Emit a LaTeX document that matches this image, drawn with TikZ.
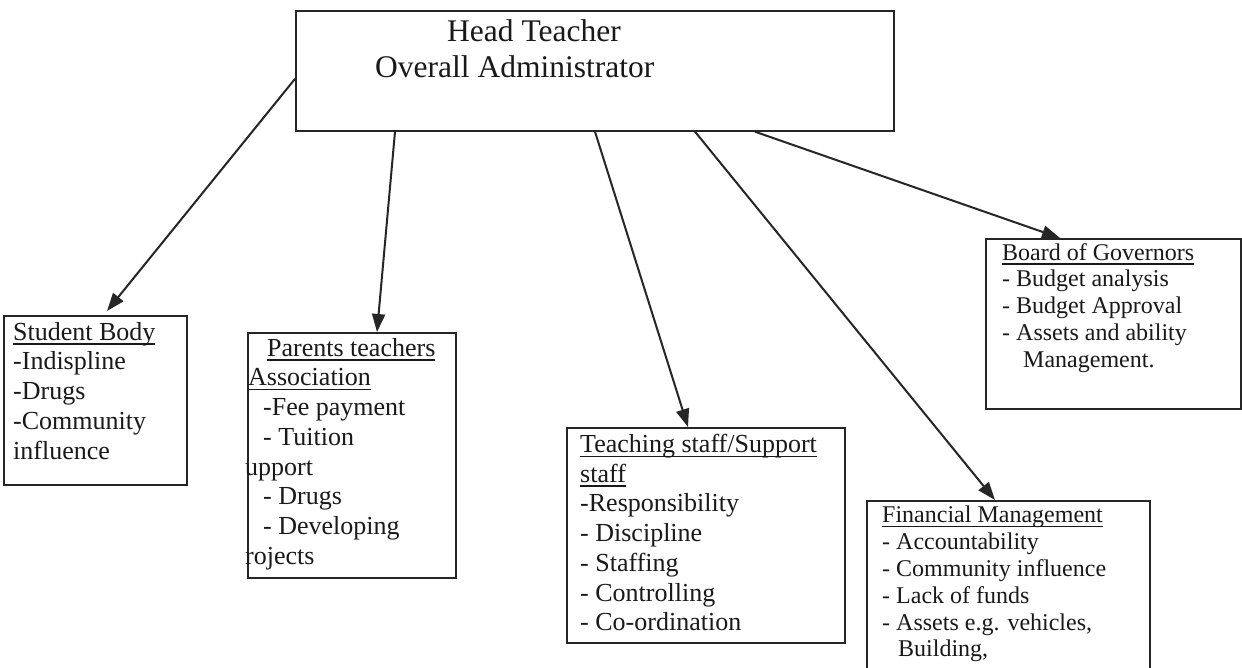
\documentclass[tikz,border=0pt]{standalone}
\usepackage{fontspec}
\setmainfont{Liberation Serif}
\usetikzlibrary{arrows.meta,positioning}
\def\hdsize{\fontsize{31.5pt}{36pt}\selectfont}
\def\mdsize{\fontsize{26pt}{29.7pt}\selectfont}
\def\smsize{\fontsize{24pt}{26.8pt}\selectfont}
\newcommand{\undl}[1]{\setbox0\hbox{#1}\rlap{\rule[-4.5pt]{\wd0}{1.3pt}}\box0}

\begin{document}
\begin{tikzpicture}[x=1pt,y=-1pt,
  orgbox/.style={draw=black!85,line width=1.7pt,anchor=north west,inner sep=0pt},
  boxtext/.style={anchor=north west,align=left,inner sep=0pt,text=black!90},
  link/.style={draw=black!85,line width=2pt,-{Triangle[length=18pt,width=13pt]}}]
\fill[white] (0,0) rectangle (1242,667);
\clip (0,0) rectangle (1242,667);
% boxes
\node[orgbox,minimum width=598pt,minimum height=120pt] (head) at (295,10) {};
\node[orgbox,minimum width=183pt,minimum height=169pt] (student) at (3,315) {};
\node[orgbox,minimum width=208pt,minimum height=245pt] (parents) at (247,332) {};
\node[orgbox,minimum width=278pt,minimum height=215pt] (teach) at (566,427) {};
\node[orgbox,minimum width=283pt,minimum height=200pt] (fin) at (866,500) {};
\node[orgbox,minimum width=255pt,minimum height=170pt] (board) at (985,238) {};
% texts
\node[boxtext,font=\hdsize] (headtxt) at (375,19)
  {\hspace*{72pt}Head Teacher\\Overall Administrator};
\node[boxtext,font=\mdsize,below right=7pt and 10pt of student.north west] (studenttxt)
  {\undl{Student Body}\\-Indispline\\-Drugs\\-Community\\influence};
\node[boxtext,font=\mdsize,below right=6pt and -2pt of parents.north west] (parentstxt)
  {\hspace*{22pt}\undl{Parents teachers}\\\hspace*{3pt}\undl{Association}\\
   \hspace*{18pt}-Fee payment\\\hspace*{18pt}- Tuition\\upport\\
   \hspace*{18pt}- Drugs\\\hspace*{18pt}- Developing\\rojects};
\node[boxtext,font=\mdsize,below right=7pt and 14pt of teach.north west] (teachtxt)
  {\undl{Teaching staff/Support}\\\undl{staff}\\-Responsibility\\- Discipline\\
   - Staffing\\- Controlling\\- Co-ordination};
\node[boxtext,font=\smsize,below right=6pt and 16pt of fin.north west] (fintxt)
  {\undl{Financial Management}\\- Accountability\\- Community influence\\
   - Lack of funds\\- Assets e.g. vehicles,\\\hspace*{16pt}Building,};
\node[boxtext,font=\smsize,below right=5pt and 17pt of board.north west] (boardtxt)
  {\undl{Board of Governors}\\- Budget analysis\\- Budget Approval\\
   - Assets and ability\\\hspace*{21pt}Management.};
% arrows
\draw[link] ([yshift=-8pt]head.west) -- ([xshift=104pt,yshift=4pt]student.north west);
\foreach \from/\dest/\off in {100/parents/130, 300/teach/122, 400/fin/129, 460/board/75}{
  \draw[link] ([xshift=\from pt]head.south west) -- ([xshift=\off pt]\dest.north west);
}
\end{tikzpicture}
\end{document}
